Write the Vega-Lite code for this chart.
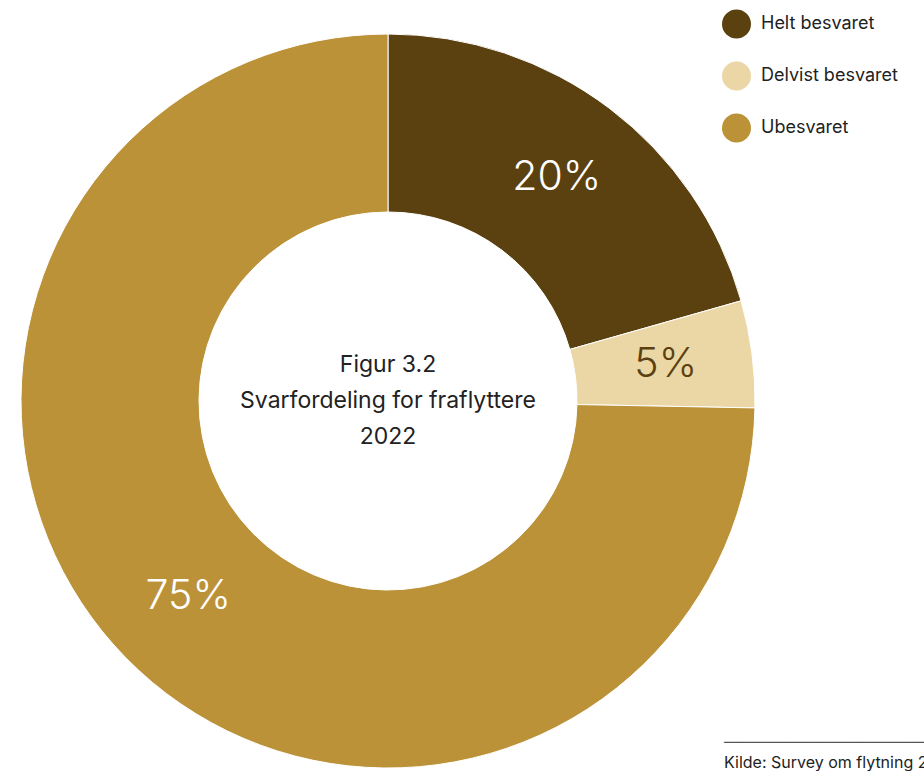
{
  "$schema": "https://vega.github.io/schema/vega-lite/v6.json",
  "width": 776,
  "height": 770,
  "autosize": {"type": "none"},
  "padding": {"top": 16, "left": 0, "right": 148, "bottom": 0},
  "background": "white",
  "view": {"stroke": null},
  "title": {
    "text": "──────────────────────────────",
    "subtitle": "Kilde: Survey om flytning 2022",
    "orient": "bottom",
    "anchor": "start",
    "frame": "group",
    "dx": 724,
    "dy": -50,
    "offset": 0,
    "font": "DejaVu Sans",
    "fontSize": 14,
    "fontWeight": "normal",
    "color": "#555555",
    "subtitleFont": "Inter",
    "subtitleFontSize": 16,
    "subtitleColor": "#222222",
    "subtitlePadding": 5
  },
  "layer": [
    {
      "data": {
        "values": [
          {"category": "Helt besvaret", "value": 20.6, "label": "20%", "order": 1},
          {"category": "Delvist besvaret", "value": 4.7, "label": "5%", "order": 2},
          {"category": "Ubesvaret", "value": 74.7, "label": "75%", "order": 3}
        ]
      },
      "layer": [
        {
          "mark": {"type": "arc", "outerRadius": 367, "innerRadius": 189, "stroke": "white", "strokeWidth": 1},
          "encoding": {
            "theta": {"field": "value", "type": "quantitative", "stack": true},
            "order": {"field": "order", "type": "quantitative"},
            "color": {
              "field": "category",
              "type": "nominal",
              "sort": ["Helt besvaret", "Delvist besvaret", "Ubesvaret"],
              "scale": {
                "domain": ["Helt besvaret", "Delvist besvaret", "Ubesvaret"],
                "range": ["#5B4110", "#EBD7A5", "#BB9238"]
              },
              "legend": {
                "title": null,
                "orient": "none",
                "legendX": 722,
                "legendY": -6.5,
                "padding": 0,
                "symbolType": "circle",
                "symbolSize": 841,
                "symbolStrokeWidth": 0,
                "symbolOpacity": 1,
                "labelFont": "Inter",
                "labelFontSize": 18,
                "labelColor": "#222222",
                "labelOffset": 10,
                "rowPadding": 23
              }
            }
          }
        },
        {
          "mark": {"type": "text", "radius": 280, "font": "Inter", "fontSize": 41, "fontWeight": 300, "align": "center", "baseline": "middle"},
          "encoding": {
            "theta": {"field": "value", "type": "quantitative", "stack": true},
            "order": {"field": "order", "type": "quantitative"},
            "text": {"field": "label"},
            "color": {
              "condition": {"test": "datum.category === 'Delvist besvaret'", "value": "#5B4110"},
              "value": "white"
            }
          }
        }
      ]
    },
    {
      "data": {"values": [{"caption": "Figur 3.2\nSvarfordeling for fraflyttere\n2022"}]},
      "mark": {"type": "text", "lineBreak": "\n", "lineHeight": 36, "font": "Inter", "fontSize": 23, "fontWeight": 400, "color": "#222222", "align": "center", "baseline": "middle", "dy": -36},
      "encoding": {"text": {"field": "caption"}}
    }
  ]
}
